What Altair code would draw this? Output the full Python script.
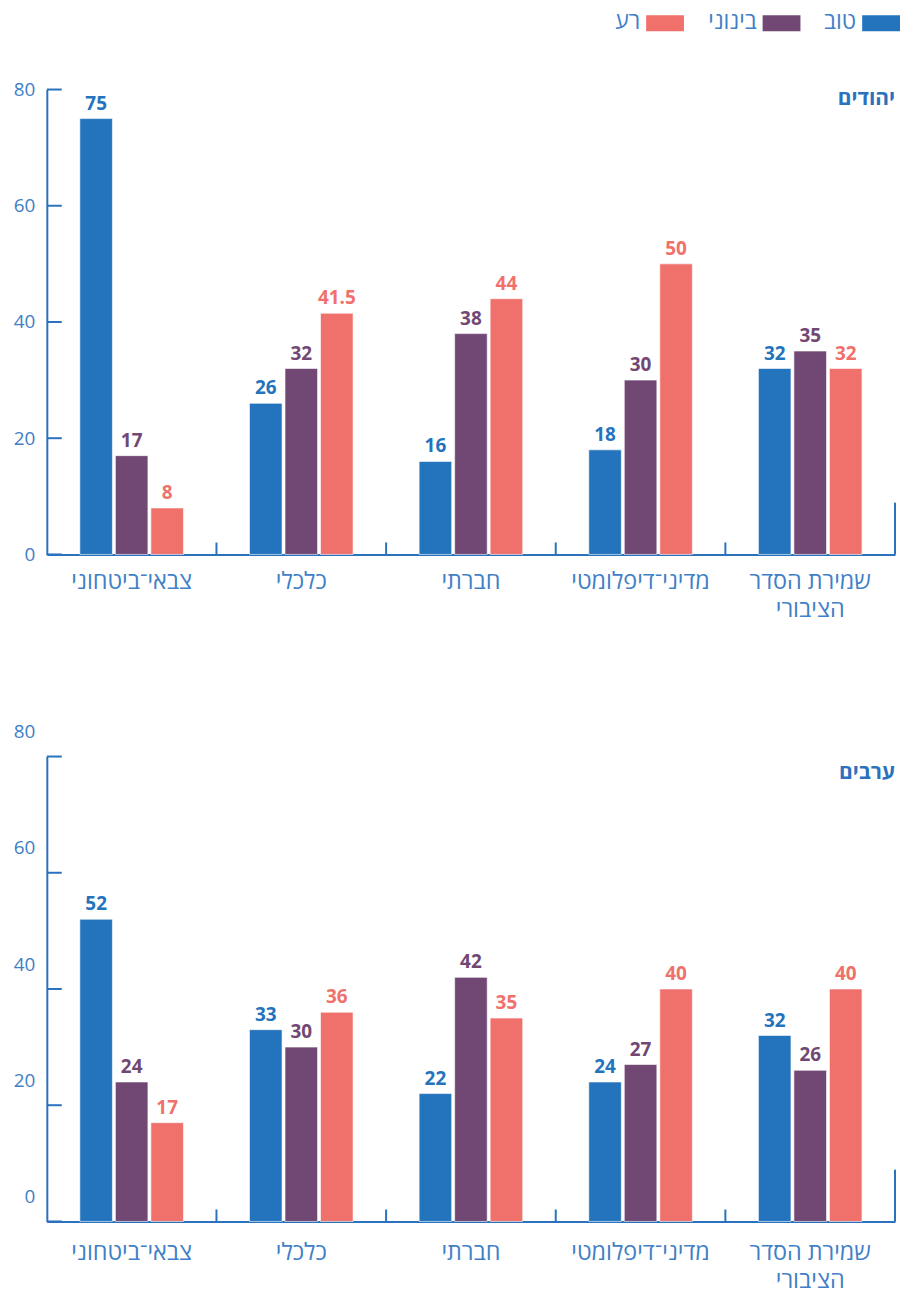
import altair as alt
import pandas as pd

categories = ["צבאי־ביטחוני", "כלכלי", "חברתי", "מדיני־דיפלומטי", "שמירת הסדר הציבורי"]
series = ["טוב", "בינוני", "רע"]
colors = ["#2374bd", "#714874", "#f0716b"]

jews_good = [75, 26, 16, 18, 32]
jews_mid = [17, 32, 38, 30, 35]
jews_bad = [8, 41.5, 44, 50, 32]

arabs_good = [52, 33, 22, 24, 32]
arabs_mid = [24, 30, 42, 27, 26]
arabs_bad = [17, 36, 35, 40, 40]

y_ticks = [0, 20, 40, 60, 80]

W, H = 852, 467
AX = "#2a72bd"
LBL = "#3f80c6"
FONT = "Open Sans"
legend_x = [838, 738, 621]  # swatch centres (px) for the hand-made legend

label_expr = ("datum.label == 'שמירת הסדר הציבורי' ? ['שמירת הסדר', 'הציבורי'] : datum.label")


def panel(goods, mids, bads, title, y_label_offset, x_label_padding, title_y):
    rows = []
    for s, vals in zip(series, [goods, mids, bads]):
        for c, v in zip(categories, vals):
            rows.append({"cat": c, "series": s, "value": v, "label": f"{v:g}"})
    df = pd.DataFrame(rows)

    xscale = alt.Scale(domain=categories, paddingInner=0, paddingOuter=0)
    yscale = alt.Scale(domain=[0, 80], nice=False)
    xaxis = alt.Axis(title=None, labelAngle=0, ticks=False, domain=True, domainColor=AX,
                     domainWidth=2, labelColor=LBL, labelFontSize=23.5, labelFont=FONT,
                     labelPadding=x_label_padding, labelExpr=label_expr, labelLineHeight=28,
                     labelLimit=300, grid=False)
    yaxis = alt.Axis(title=None, values=y_ticks, ticks=False, domain=True, domainColor=AX,
                     domainWidth=2, labelColor=LBL, labelFontSize=19, labelFont=FONT,
                     labelPadding=12, labelOffset=y_label_offset, grid=False)

    base = alt.Chart(df)
    bars = base.mark_bar(stroke="white", strokeWidth=1, strokeOpacity=0.6).encode(
        x=alt.X("cat:N", sort=categories, scale=xscale, axis=xaxis),
        xOffset=alt.XOffset("series:N", sort=series,
                            scale=alt.Scale(domain=series, paddingInner=0.083, paddingOuter=0.93)),
        y=alt.Y("value:Q", scale=yscale, axis=yaxis),
        color=alt.Color("series:N", scale=alt.Scale(domain=series, range=colors), legend=None),
    )
    texts = base.mark_text(baseline="bottom", dy=-5, fontWeight="bold", fontSize=19, font=FONT).encode(
        x=alt.X("cat:N", sort=categories),
        xOffset=alt.XOffset("series:N", sort=series),
        y=alt.Y("value:Q"),
        text="label:N",
        color=alt.Color("series:N", legend=None),
    )

    tick_df = pd.DataFrame({"t": y_ticks})
    yticks = alt.Chart(tick_df).mark_rule(color=AX, strokeWidth=2).encode(
        y=alt.Y("t:Q"), x=alt.value(0), x2=alt.value(15)
    )

    sep_df = pd.DataFrame({"cat": categories[1:]})
    seps = alt.Chart(sep_df).mark_rule(color=AX, strokeWidth=2).encode(
        x=alt.X("cat:N", sort=categories, bandPosition=0),
        y=alt.value(H - 12), y2=alt.value(H),
    )
    end_df = pd.DataFrame({"cat": categories[-1:]})
    endline = alt.Chart(end_df).mark_rule(color=AX, strokeWidth=2).encode(
        x=alt.X("cat:N", sort=categories, bandPosition=1),
        y=alt.value(H - 52), y2=alt.value(H),
    )

    title_df = pd.DataFrame({"t": [title]})
    ttl = alt.Chart(title_df).mark_text(align="right", baseline="middle", fontWeight="bold",
                                        fontSize=21, font=FONT, color=AX).encode(
        text="t:N", x=alt.value(W), y=alt.value(title_y)
    )

    return alt.layer(bars, texts, yticks, seps, endline, ttl).properties(width=W, height=H)


legend_layers = []
for s, c, px in zip(series, colors, legend_x):
    d = pd.DataFrame({"series": [s]})
    legend_layers.append(
        alt.Chart(d).mark_point(shape="M-1,-0.42H1V0.42H-1Z", size=1444, filled=True,
                                opacity=1, color=c).encode(x=alt.value(px), y=alt.value(12.5))
    )
    legend_layers.append(
        alt.Chart(d).mark_text(align="right", baseline="top", dx=-25, fontSize=23,
                               font=FONT, color=LBL).encode(
            x=alt.value(px), y=alt.value(0), text="series:N")
    )
legend = alt.layer(*legend_layers).properties(width=W, height=28)

p1 = panel(jews_good, jews_mid, jews_bad, "יהודים", 0, 15, 10)
p2 = panel(arabs_good, arabs_mid, arabs_bad, "ערבים", -25, 19, 17)

panels = alt.vconcat(p1, p2, spacing=102)
chart = alt.vconcat(legend, panels, spacing=42).resolve_scale(
    x="independent", y="independent", color="shared"
).properties(
    padding={"left": 5, "top": 0, "right": 0, "bottom": 0}
).configure(font=FONT).configure_view(stroke=None)

chart.save("out.html", embed_options={"renderer": "svg", "actions": False})
